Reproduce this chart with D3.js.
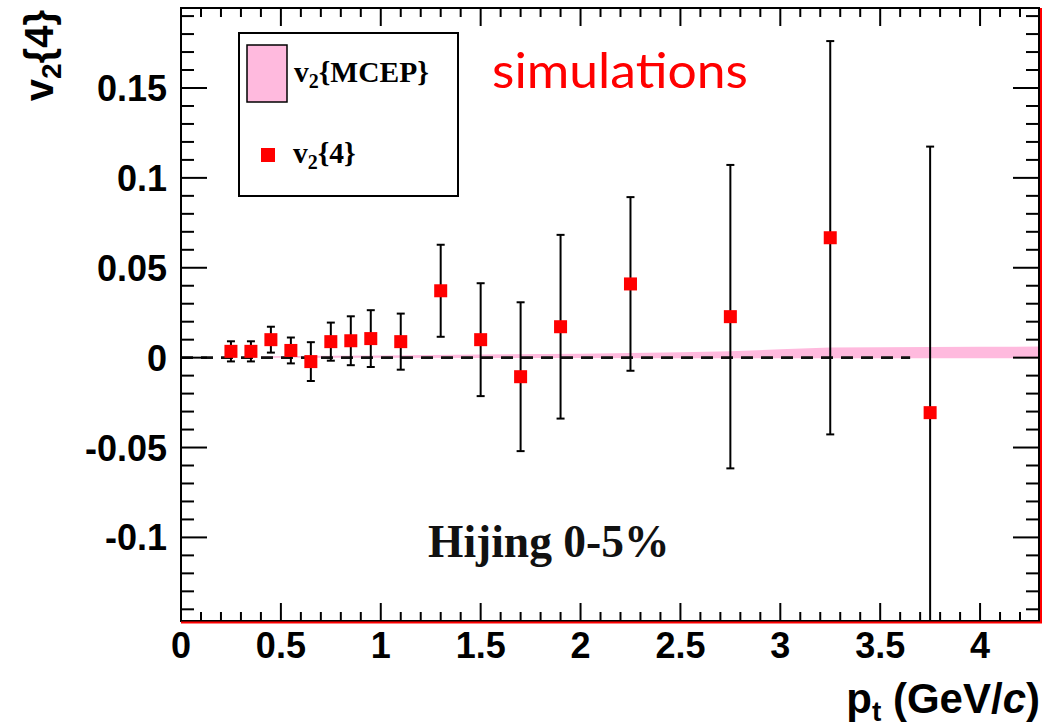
<!DOCTYPE html>
<html>
<head>
<meta charset="utf-8">
<script src="https://cdn.jsdelivr.net/npm/d3@7"></script>
<style>
  html, body { margin: 0; padding: 0; background: #fff; }
  svg { display: block; }
</style>
</head>
<body>
<svg id="chart" width="1045" height="728"></svg>
<script>
// v2{4} measurement vs pt (Hijing 0-5%)
const ptValues = [0.25, 0.35, 0.45, 0.55, 0.65, 0.75, 0.85, 0.95, 1.1, 1.3, 1.5, 1.7, 1.9, 2.25, 2.75, 3.25, 3.75];
const v24Values = [0.0035, 0.0035, 0.0100, 0.0040, -0.0022, 0.0089, 0.0094, 0.0106, 0.0089, 0.0372, 0.0100, -0.0106, 0.0172, 0.0410, 0.0228, 0.0667, -0.0306];
const v24Errors = [0.0056, 0.0056, 0.0072, 0.0072, 0.0108, 0.0106, 0.0136, 0.0158, 0.0156, 0.0256, 0.0314, 0.0414, 0.0511, 0.0483, 0.0844, 0.1094, 0.1480];

// v2{MCEP} band (lower / upper edge vs pt)
const mcepPt = [0.4, 0.75, 1.0, 1.5, 2.0, 2.5, 2.75, 3.0, 3.25, 3.5, 4.0, 4.3];
const mcepLow = [0.0, 0.0, 0.0, -0.0002, -0.0002, -0.0003, -0.0003, -0.0003, -0.0003, -0.0003, -0.0003, -0.0003];
const mcepHigh = [0.0008, 0.0010, 0.0012, 0.0017, 0.0022, 0.0030, 0.0035, 0.0046, 0.0056, 0.0058, 0.0060, 0.0062];

const xMajorTicks = [0, 0.5, 1, 1.5, 2, 2.5, 3, 3.5, 4];
const xTickLabels = ["0", "0.5", "1", "1.5", "2", "2.5", "3", "3.5", "4"];
const yMajorTicks = [-0.1, -0.05, 0, 0.05, 0.1, 0.15];
const yTickLabels = ["-0.1", "-0.05", "0", "0.05", "0.1", "0.15"];

const svg = d3.select("#chart");
const frameL = 181, frameR = 1040, frameT = 8, frameB = 621;

const x = d3.scaleLinear().domain([0, 4.3]).range([frameL, frameR]);
const y = d3.scaleLinear().domain([-0.1465, 0.1945]).range([frameB, frameT]);

const sans = "'Liberation Sans', Arial, Helvetica, sans-serif";
const serif = "'Liberation Serif', 'Times New Roman', serif";

// clip for everything drawn inside the frame
svg.append("defs").append("clipPath").attr("id", "plotArea")
  .append("rect").attr("x", frameL).attr("y", frameT).attr("width", frameR - frameL).attr("height", frameB - frameT);

const plot = svg.append("g").attr("clip-path", "url(#plotArea)");

// MCEP band
const bandData = mcepPt.map((p, i) => ({ p, lo: mcepLow[i], hi: mcepHigh[i] }));
plot.append("path")
  .datum(bandData)
  .attr("fill", "#ffbade")
  .attr("stroke", "none")
  .attr("d", d3.area().x(d => x(d.p)).y0(d => y(d.lo)).y1(d => y(d.hi)));

// zero reference line
plot.append("line")
  .attr("x1", x(0)).attr("x2", x(3.65))
  .attr("y1", y(0)).attr("y2", y(0))
  .attr("stroke", "#111").attr("stroke-width", 2.6)
  .attr("stroke-dasharray", "12,8");

// error bars
const pts = ptValues.map((p, i) => ({ p, v: v24Values[i], e: v24Errors[i] }));
const eb = plot.append("g").attr("stroke", "#000").attr("stroke-width", 2);
eb.selectAll("line.bar").data(pts).join("line").attr("class", "bar")
  .attr("x1", d => x(d.p)).attr("x2", d => x(d.p))
  .attr("y1", d => y(d.v - d.e)).attr("y2", d => y(d.v + d.e));
eb.selectAll("line.capHi").data(pts).join("line").attr("class", "capHi")
  .attr("x1", d => x(d.p) - 4).attr("x2", d => x(d.p) + 4)
  .attr("y1", d => y(d.v + d.e)).attr("y2", d => y(d.v + d.e));
eb.selectAll("line.capLo").data(pts).join("line").attr("class", "capLo")
  .attr("x1", d => x(d.p) - 4).attr("x2", d => x(d.p) + 4)
  .attr("y1", d => y(d.v - d.e)).attr("y2", d => y(d.v - d.e));

// markers
const ms = 13;
plot.selectAll("rect.marker").data(pts).join("rect").attr("class", "marker")
  .attr("x", d => x(d.p) - ms / 2).attr("y", d => y(d.v) - ms / 2)
  .attr("width", ms).attr("height", ms)
  .attr("fill", "#ff0000");

// frame
svg.append("rect")
  .attr("x", frameL).attr("y", frameT).attr("width", frameR - frameL - 1).attr("height", frameB - frameT)
  .attr("fill", "none").attr("stroke", "#000").attr("stroke-width", 2);
svg.append("line").attr("x1", frameL).attr("x2", frameR + 2).attr("y1", frameB + 1.5).attr("y2", frameB + 1.5)
  .attr("stroke", "#ff0000").attr("stroke-width", 2);
svg.append("line").attr("x1", frameR + 1).attr("x2", frameR + 1).attr("y1", frameT).attr("y2", frameB + 2)
  .attr("stroke", "#ff0000").attr("stroke-width", 2);

// ticks: major + minor on all four sides
const ticks = svg.append("g").attr("stroke", "#000").attr("stroke-width", 2);
const xMinor = d3.range(0, 43).map(i => i / 10);
const yMinor = d3.range(-14, 20).map(i => i / 100);
const isMajor = (v, step) => Math.abs(v / step - Math.round(v / step)) < 1e-6;

xMinor.forEach(v => {
  const len = isMajor(v, 0.5) ? 18 : 9;
  ticks.append("line").attr("x1", x(v)).attr("x2", x(v)).attr("y1", frameB).attr("y2", frameB - len);
  ticks.append("line").attr("x1", x(v)).attr("x2", x(v)).attr("y1", frameT).attr("y2", frameT + len);
});
yMinor.forEach(v => {
  const len = isMajor(v, 0.05) ? 26 : 13;
  ticks.append("line").attr("x1", frameL).attr("x2", frameL + len).attr("y1", y(v)).attr("y2", y(v));
  ticks.append("line").attr("x1", frameR - 1).attr("x2", frameR - 1 - len).attr("y1", y(v)).attr("y2", y(v));
});

// tick labels
svg.append("g").selectAll("text").data(xMajorTicks).join("text")
  .attr("x", d => x(d)).attr("y", 658)
  .attr("text-anchor", "middle")
  .attr("font-family", sans).attr("font-weight", "bold").attr("font-size", 36)
  .text((d, i) => xTickLabels[i]);
svg.append("g").selectAll("text").data(yMajorTicks).join("text")
  .attr("x", 167).attr("y", d => y(d) + 13)
  .attr("text-anchor", "end")
  .attr("font-family", sans).attr("font-weight", "bold").attr("font-size", 36)
  .text((d, i) => yTickLabels[i]);

// x axis title: p_t (GeV/c)
const xt = svg.append("text")
  .attr("x", 1040).attr("y", 713).attr("text-anchor", "end")
  .attr("font-family", sans).attr("font-weight", "bold").attr("font-size", 42);
xt.append("tspan").text("p");
xt.append("tspan").attr("font-size", 28).attr("dy", 8).text("t");
xt.append("tspan").attr("dy", -8).text(" (GeV/");
xt.append("tspan").attr("font-style", "italic").text("c");
xt.append("tspan").text(")");

// y axis title: v_2{4}
const yt = svg.append("text")
  .attr("transform", "translate(53,10) rotate(-90)")
  .attr("text-anchor", "end")
  .attr("font-family", sans).attr("font-weight", "bold").attr("font-size", 40);
yt.append("tspan").text("v");
yt.append("tspan").attr("font-size", 28).attr("dy", 8).text("2");
yt.append("tspan").attr("dy", -8).text("{4}");

// legend
const lg = svg.append("g");
lg.append("rect").attr("x", 239).attr("y", 33).attr("width", 219).attr("height", 163)
  .attr("fill", "#fff").attr("stroke", "#000").attr("stroke-width", 2);
lg.append("rect").attr("x", 247).attr("y", 45).attr("width", 40).attr("height", 57)
  .attr("fill", "#ffbade").attr("stroke", "#000").attr("stroke-width", 1.5);
lg.append("rect").attr("x", 261).attr("y", 148).attr("width", 14).attr("height", 14)
  .attr("fill", "#ff0000");
const l1 = lg.append("text").attr("x", 294).attr("y", 82)
  .attr("font-family", serif).attr("font-weight", "bold").attr("font-size", 29.5);
l1.append("tspan").text("v");
l1.append("tspan").attr("font-size", 20).attr("dy", 6).text("2");
l1.append("tspan").attr("dy", -6).text("{MCEP}");
const l2 = lg.append("text").attr("x", 293).attr("y", 163)
  .attr("font-family", serif).attr("font-weight", "bold").attr("font-size", 29.5);
l2.append("tspan").text("v");
l2.append("tspan").attr("font-size", 20).attr("dy", 6).text("2");
l2.append("tspan").attr("dy", -6).text("{4}");

// annotations
svg.append("text").attr("x", 492).attr("y", 88)
  .attr("font-family", "Lato, 'Open Sans', sans-serif").attr("font-size", 48)
  .attr("fill", "#ff0000")
  .attr("textLength", 256).attr("lengthAdjust", "spacingAndGlyphs")
  .text("simulations");

svg.append("text").attr("x", 428).attr("y", 557)
  .attr("font-family", serif).attr("font-weight", "bold").attr("font-size", 45.5)
  .attr("fill", "#111")
  .text("Hijing 0-5%");
</script>
</body>
</html>
